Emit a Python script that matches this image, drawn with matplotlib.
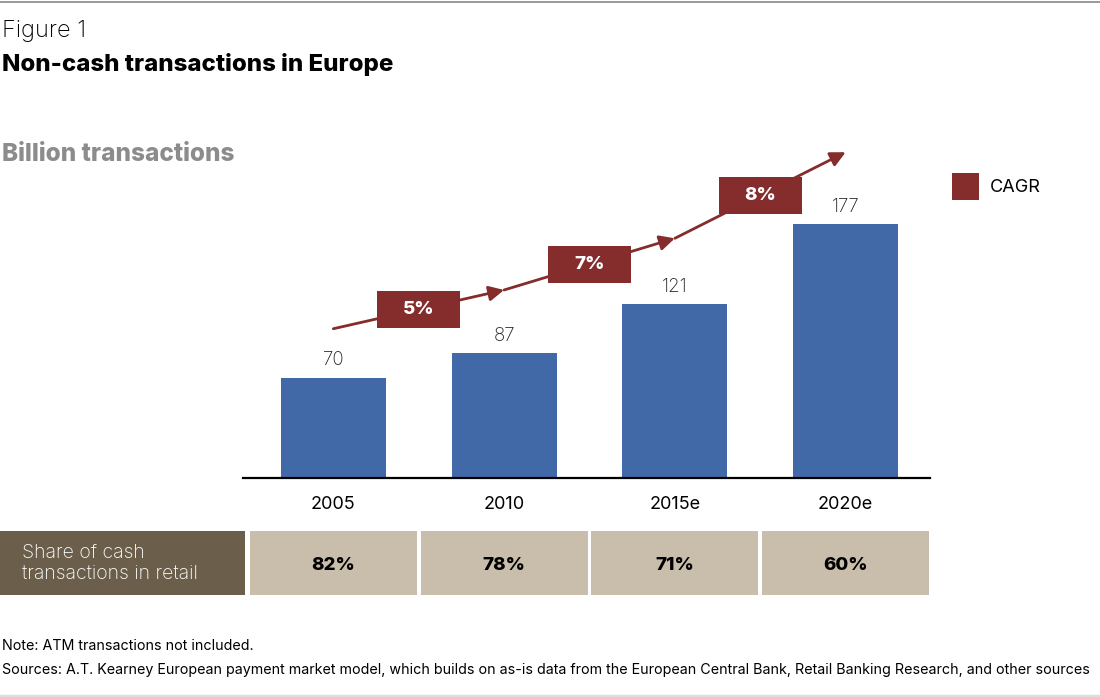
import matplotlib
matplotlib.use("Agg")
import matplotlib.pyplot as plt
from matplotlib.patches import Rectangle
import numpy as np

plt.rcParams['font.family'] = ['Inter', 'DejaVu Sans']

years = ['2005', '2010', '2015e', '2020e']
transactions = [70, 87, 121, 177]
cagr = ['5%', '7%', '8%']
trend_y = [104, 131, 167, 227]   # height of the CAGR arrow at each year
cash_share = ['82%', '78%', '71%', '60%']

W, H = 1100, 697
fig = plt.figure(figsize=(11, 6.97), dpi=100)

def fx(px):
    return px / W

def fy(px):
    return 1 - px / H

bar_color = '#4169a8'
red = '#852c2c'
x = np.arange(len(years))

# main bar chart
ax = fig.add_axes([fx(243), fy(478), fx(930) - fx(243), fy(140) - fy(478)])
ax.bar(x, transactions, width=0.614, color=bar_color, zorder=2)
ax.set_xlim(-0.529, 3.494)
ax.set_ylim(0, 235.5)
for s in ['top', 'right', 'left']:
    ax.spines[s].set_visible(False)
ax.spines['bottom'].set_linewidth(1.6)
ax.set_yticks([])
ax.set_xticks(x)
ax.set_xticklabels(years, fontsize=13)
ax.tick_params(axis='x', length=0, pad=13)
for xi, v in zip(x, transactions):
    ax.annotate(str(v), (xi, v), xytext=(0, 6), textcoords='offset points',
                ha='center', va='bottom', fontsize=13.5, color='#222222',
                fontweight='light')

# CAGR arrow
for i in range(len(trend_y) - 1):
    ax.annotate('', xy=(x[i + 1], trend_y[i + 1]), xytext=(x[i], trend_y[i]),
                arrowprops=dict(arrowstyle='-|>,head_length=0.9,head_width=0.45',
                                color=red, lw=2.0, shrinkA=0, shrinkB=0),
                zorder=3)
    mx = (x[i] + x[i + 1]) / 2
    my = (trend_y[i] + trend_y[i + 1]) / 2
    ax.add_patch(Rectangle((mx - 0.2425, my - 12.9), 0.485, 25.8,
                           facecolor=red, edgecolor='none', zorder=4))
    ax.text(mx, my, cagr[i], ha='center', va='center', color='white',
            fontsize=13.5, fontweight='heavy', zorder=5)

# legend
fig.patches.append(Rectangle((fx(952), fy(200)), fx(27), fy(173) - fy(200),
                             facecolor=red, edgecolor='none',
                             transform=fig.transFigure))
fig.text(fx(990), fy(187), 'CAGR', ha='left', va='center', fontsize=13)

# share of cash table
tax = fig.add_axes([fx(243), fy(595), fx(930) - fx(243), fy(531) - fy(595)])
tax.set_xlim(ax.get_xlim())
tax.set_ylim(0, 1)
tax.axis('off')
tax.bar(x, [1] * len(x), width=0.977, bottom=0, align='center',
        color='#c9bdac')
for xi, s in zip(x, cash_share):
    tax.text(xi, 0.46, s, ha='center', va='center', fontsize=13.5,
             fontweight='heavy', color='black')
fig.patches.append(Rectangle((0, fy(595)), fx(245), fy(531) - fy(595),
                             facecolor='#6b5f4b', edgecolor='none',
                             transform=fig.transFigure))
fig.text(fx(22), fy(563), 'Share of cash\ntransactions in retail', ha='left',
         va='center', fontsize=14, color='white', fontweight='light',
         linespacing=1.2)

# titles and notes
fig.text(fx(2), fy(37), 'Figure 1', ha='left', va='baseline', fontsize=17,
         fontweight='light')
fig.text(fx(2), fy(71), 'Non-cash transactions in Europe', ha='left',
         va='baseline', fontsize=17.3, fontweight='heavy')
fig.text(fx(2), fy(161), 'Billion transactions', ha='left', va='baseline',
         fontsize=17.5, fontweight='heavy', color='#8c8c8c')
fig.text(fx(2), fy(650), 'Note: ATM transactions not included.', ha='left',
         va='baseline', fontsize=10.3)
fig.text(fx(2), fy(674), 'Sources: A.T. Kearney European payment market model, '
         'which builds on as-is data from the European Central Bank, Retail '
         'Banking Research, and other sources', ha='left', va='baseline',
         fontsize=10.3)

# rules at top and bottom
fig.add_artist(plt.Line2D([0, 1], [fy(1.5), fy(1.5)], color='#888888', lw=1.2,
                          transform=fig.transFigure))
fig.add_artist(plt.Line2D([0, 1], [fy(695.5), fy(695.5)], color='#dddddd',
                          lw=2.5, transform=fig.transFigure))

fig.savefig('out.png', dpi=100)
